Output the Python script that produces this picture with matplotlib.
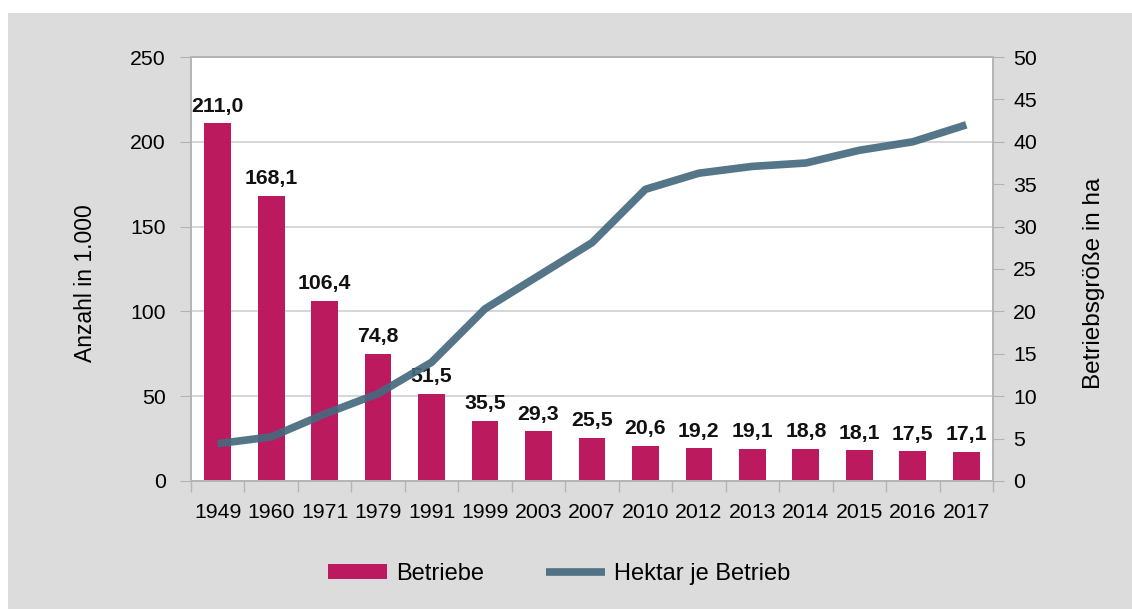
import numpy as np
import matplotlib.pyplot as plt
from matplotlib.patches import Rectangle

plt.rcParams['font.family'] = ['Liberation Sans', 'DejaVu Sans']

jahre = ['1949', '1960', '1971', '1979', '1991', '1999', '2003', '2007',
         '2010', '2012', '2013', '2014', '2015', '2016', '2017']
betriebe = [211.0, 168.1, 106.4, 74.8, 51.5, 35.5, 29.3, 25.5,
            20.6, 19.2, 19.1, 18.8, 18.1, 17.5, 17.1]
hektar = [4.4, 5.2, 7.9, 10.3, 14.0, 20.3, 24.2, 28.1,
          34.4, 36.3, 37.1, 37.5, 39.0, 40.0, 42.0]

bg = '#dcdcdc'
rot = '#bc1a5e'
blau = '#456a7e'
grau = '#b4b4b4'

fig = plt.figure(figsize=(11.32, 6.09), dpi=100, facecolor='white')
# grauer Hintergrund mit weissem Rand oben/links
fig.patches.append(Rectangle((8 / 1132, 0), 1, 1 - 13 / 609,
                             transform=fig.transFigure, facecolor=bg,
                             edgecolor='none', zorder=-10))

ax = fig.add_axes([0.1687, 0.2102, 0.7085, 0.6962])
ax2 = ax.twinx()

x = np.arange(len(jahre))
ax.bar(x, betriebe, width=0.5, color=rot, zorder=2, label='Betriebe')
for xi, v in zip(x, betriebe):
    ax.text(xi, v + 4.5, f'{v:.1f}'.replace('.', ','), ha='center', va='bottom',
            fontsize=15.3, fontweight='bold', color='#111111', zorder=3)

ax.set_xlim(-0.5, len(jahre) - 0.5)
ax.set_ylim(0, 250)
ax.set_yticks(range(0, 251, 50))
ax.set_xticks(x)
ax.set_xticklabels(jahre)
ax.set_xticks(np.arange(-0.5, len(jahre), 1), minor=True)
ax.tick_params(axis='x', which='major', length=0, pad=16, labelsize=15.3)
ax.tick_params(axis='x', which='minor', length=8, color=grau, width=1)
ax.tick_params(axis='y', length=8, color=grau, labelsize=15.3, pad=10)
ax.grid(axis='y', color='#d0d0d0', linewidth=1.2, zorder=0)
ax.set_ylabel('Anzahl in 1.000', fontsize=16.5)
ax.yaxis.set_label_coords(-0.1172, 0.467)

ax2.plot(x, hektar, color=blau, linewidth=5.5, alpha=0.92, zorder=5,
         solid_capstyle='butt', label='Hektar je Betrieb')
ax2.set_ylim(0, 50)
ax2.set_yticks(range(0, 51, 5))
ax2.tick_params(axis='y', length=8, color=grau, labelsize=15.3, pad=6.5)
ax2.set_ylabel('Betriebsgröße in ha', fontsize=17.5)
ax2.yaxis.set_label_coords(1.112, 0.467)
ax.set_zorder(1)
ax2.set_zorder(2)
ax2.patch.set_visible(False)

for a in (ax, ax2):
    for s in a.spines.values():
        s.set_color(grau)
        s.set_linewidth(1.2)

h1, l1 = ax.get_legend_handles_labels()
h2, l2 = ax2.get_legend_handles_labels()
fig.legend(h1 + h2, l1 + l2, loc='center', bbox_to_anchor=(0.494, 0.0575),
           ncol=2, frameon=False, fontsize=17, handlelength=2.5,
           handleheight=0.6, columnspacing=2.6, handletextpad=0.4)

fig.savefig('out.png', dpi=100, facecolor='white')
